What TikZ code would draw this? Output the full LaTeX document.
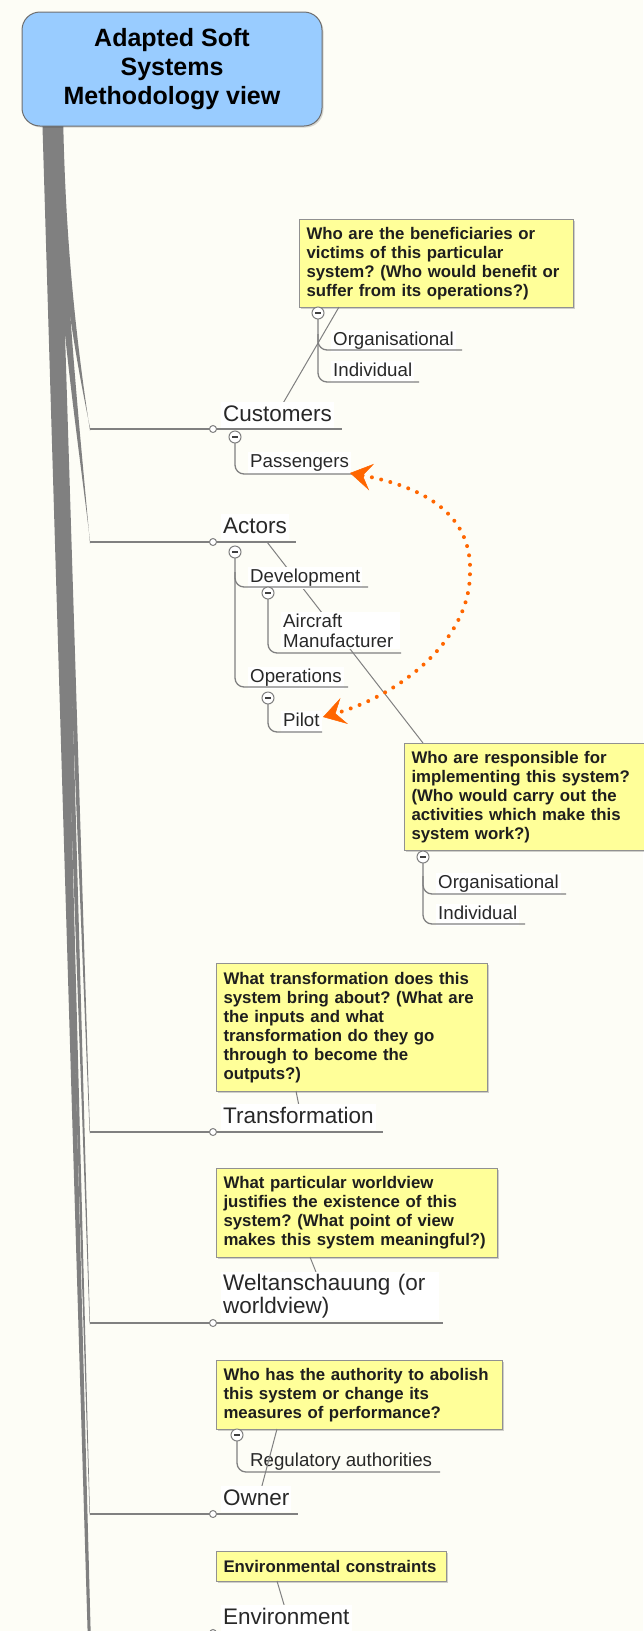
\documentclass[tikz,border=0pt]{standalone}
\usepackage{fontspec}
\setmainfont{Liberation Sans}
\usetikzlibrary{arrows.meta,shadows}
\definecolor{bgc}{RGB}{253,253,246}
\definecolor{trunkc}{RGB}{128,128,128}
\definecolor{linec}{RGB}{128,128,128}
\definecolor{rootc}{RGB}{153,204,255}
\definecolor{rootbd}{RGB}{110,110,110}
\definecolor{notec}{RGB}{255,255,153}
\definecolor{notebd}{RGB}{145,145,145}
\definecolor{notetxt}{RGB}{30,30,30}
\definecolor{txtc}{RGB}{40,40,40}
\definecolor{orangec}{RGB}{255,102,0}
\frenchspacing
\begin{document}
\begin{tikzpicture}[x=1pt,y=-1pt,
  topic/.style={anchor=base west, fill=white, inner xsep=2pt, inner ysep=2pt, text=txtc, font=\fontsize{22.5}{23.5}\selectfont},
  oneline/.style={text height=17pt, text depth=5pt},
  subtopic/.style={anchor=base west, fill=white, inner xsep=2pt, inner ysep=1.5pt, text=txtc, font=\fontsize{18.7}{20}\selectfont},
  subone/.style={text height=14pt, text depth=5pt},
  notebox/.style={draw=notebd, fill=notec, line width=1pt, anchor=north west, align=left, inner xsep=7pt, inner ysep=0pt, text=notetxt, font=\bfseries\fontsize{16.8}{19}\selectfont, drop shadow={shadow xshift=1.5pt, shadow yshift=-1.5pt, fill=black, opacity=0.18}},
  rootbox/.style={draw=rootbd, fill=rootc, line width=1pt, rounded corners=18pt, minimum width=300pt, minimum height=114pt, align=center, text=black, font=\bfseries\fontsize{25}{28.7}\selectfont, drop shadow={shadow xshift=1.5pt, shadow yshift=-1.5pt, fill=black, opacity=0.15}},
  branchline/.style={draw=linec, line width=1.5pt},
  subline/.style={draw=linec, line width=1.3pt, rounded corners=9pt},
  noteline/.style={draw=linec, line width=1pt},
  knob/.style={circle, draw=linec, fill=white, inner sep=0pt, minimum size=7pt, line width=1pt},
  minusknob/.style={circle, draw=linec, fill=white, inner sep=0pt, minimum size=12pt, line width=1pt,
    path picture={\draw[black!75, line width=1.5pt] ([xshift=-3pt]path picture bounding box.center) -- ([xshift=3pt]path picture bounding box.center);}},
  orangedots/.style={draw=orangec, line width=4pt, line cap=round, dash pattern=on 0pt off 9.5pt},
  tipo/.tip={Stealth[length=22pt,width=27pt,inset=9pt,line width=0.5pt]}
]
\useasboundingbox (0,0) rectangle (643,1631);
\fill[bgc] (0,0) rectangle (643,1631);

% ---------- trunk (tapered branches from the root) ----------
\fill[trunkc] (42,110) -- (88,1645) -- (91,1645) -- (50,110) -- cycle;
\fill[trunkc] (44,110) -- (89.5,1512.5) -- (90,1515.5) -- (53,110) -- cycle;
\fill[trunkc] (46,110) -- (89.5,1321.5) -- (90,1324.5) -- (56,110) -- cycle;
\fill[trunkc] (48,110) -- (89.5,1130.5) -- (90,1133.5) -- (58,110) -- cycle;
\fill[trunkc] (51,110) .. controls (55,290) and (73.5,404.6) .. (90,540.5) -- (90,543.5) .. controls (77.5,404.6) and (65,290) .. (61,110) -- cycle;
\fill[trunkc] (54,110) .. controls (55.5,240) and (72.5,343) .. (90,427.5) -- (90,430.5) .. controls (76.5,343) and (65,240) .. (63,110) -- cycle;

% ---------- junction and end coordinates ----------
\coordinate (jCu) at (90,429);   \coordinate (eCu) at (342,429);
\coordinate (jAc) at (90,542);   \coordinate (eAc) at (296,542);
\coordinate (jTr) at (90,1132);  \coordinate (eTr) at (383,1132);
\coordinate (jWe) at (90,1323);  \coordinate (eWe) at (443,1323);
\coordinate (jOw) at (90,1514);  \coordinate (eOw) at (298,1514);
\coordinate (jEn) at (90,1633);  \coordinate (eEn) at (362,1633);

% ---------- callout boxes ----------
\node[notebox, minimum width=274pt, minimum height=88pt, text width=260pt] (n1) at (299,219)
  {Who are the beneficiaries or\\victims of this particular\\system? (Who would benefit or\\suffer from its operations?)};
\node[notebox, minimum width=240pt, minimum height=107pt, text width=226pt] (n2) at (404,743)
  {Who are responsible for\\implementing this system?\\(Who would carry out the\\activities which make this\\system work?)};
\node[notebox, minimum width=271pt, minimum height=128pt, text width=257pt] (n3) at (216,963)
  {What transformation does this\\system bring about? (What are\\the inputs and what\\transformation do they go\\through to become the\\outputs?)};
\node[notebox, minimum width=281pt, minimum height=89pt, text width=267pt] (n4) at (216,1168)
  {What particular worldview\\justifies the existence of this\\system? (What point of view\\makes this system meaningful?)};
\node[notebox, minimum width=286pt, minimum height=69pt, text width=272pt] (n5) at (216,1360)
  {Who has the authority to abolish\\this system or change its\\measures of performance?};
\node[notebox, minimum width=230pt, minimum height=30pt, text width=216pt] (n6) at (216,1551)
  {Environmental constraints};

% ---------- callout connectors ----------
\coordinate (c1a) at (282,405);   \coordinate (c1b) at (339,307);
\coordinate (c2a) at (267,542);   \coordinate (c2b) at (423,743);
\coordinate (c3a) at (299,1106);  \coordinate (c3b) at (296,1091);
\coordinate (c4a) at (316,1272);  \coordinate (c4b) at (310,1257);
\coordinate (c6a) at (285,1608);  \coordinate (c6b) at (277,1581);
\draw[noteline] (c1a) -- (c1b);
\draw[noteline] (c2a) -- (c2b);
\draw[noteline] (c3a) -- (c3b);
\draw[noteline] (c4a) -- (c4b);
\draw[noteline] (c6a) -- (c6b);

% ---------- horizontal branch lines + underlines ----------
\draw[branchline] (jCu) -- (eCu);
\draw[branchline] (jAc) -- (eAc);
\draw[branchline] (jTr) -- (eTr);
\draw[branchline] (jWe) -- (eWe);
\draw[branchline] (jOw) -- (eOw);
\draw[branchline] (jEn) -- (eEn);

% ---------- sub-topic text ----------
\node[subtopic, subone] (Pa) at (248,467) {Passengers};
\node[subtopic, subone] (De) at (248,582) {Development};
\node[subtopic, text width=115pt, align=left] (AM) at (281,627) {Aircraft\\Manufacturer};
\node[subtopic, subone] (Op) at (248,682) {Operations};
\node[subtopic, subone] (Pi) at (281,726) {Pilot};
\node[subtopic, subone] (Or1) at (331,345) {Organisational};
\node[subtopic, subone] (In1) at (331,376) {Individual};
\node[subtopic, subone] (Or2) at (436,888) {Organisational};
\node[subtopic, subone] (In2) at (436,919) {Individual};
\node[subtopic, subone, fill=none] (Re) at (248,1466) {Regulatory authorities};

% owner callout connector (runs over the sub-topic text)
\coordinate (c5a) at (259,1497);  \coordinate (c5b) at (277,1429);
\draw[noteline] (c5a) -- (c5b);

% ---------- main topic text ----------
\node[topic, oneline] (Cu) at (221,421) {Customers};
\node[topic, oneline] (Ac) at (221,533) {Actors};
\node[topic, oneline] (Tr) at (221,1123) {Transformation};
\node[topic, text width=214pt, align=left] (We) at (221,1290) {Weltanschauung (or\\worldview)};
\node[topic, oneline] (Ow) at (221,1505) {Owner};
\node[topic, oneline] (En) at (221,1624) {Environment};

% ---------- sub-topic tree lines ----------
\coordinate (ePa) at (352,474);
\coordinate (eDe) at (368,587);  \coordinate (bDe) at (235,572);
\coordinate (eAM) at (401,653);
\coordinate (eOp) at (348,687);
\coordinate (ePi) at (322,732);
\coordinate (eOr1) at (462,350); \coordinate (bOr1) at (318,334);
\coordinate (eIn1) at (419,382);
\coordinate (eOr2) at (566,894); \coordinate (bOr2) at (423,876);
\coordinate (eIn2) at (525,924);
\coordinate (eRe) at (440,1472);

\draw[subline] (235,443) |- (ePa);
\draw[subline] (235,558) |- (eOp);
\draw[subline] (bDe) |- (eDe);
\draw[subline] (268,599) |- (eAM);
\draw[subline] (268,704) |- (ePi);
\draw[subline] (318,319) |- (eIn1);
\draw[subline] (bOr1) |- (eOr1);
\draw[subline] (423,863) |- (eIn2);
\draw[subline] (bOr2) |- (eOr2);
\draw[subline] (237,1441) |- (eRe);

\node[minusknob] (mCu) at (235,437) {};
\node[minusknob] (mAc) at (235,552) {};
\node[minusknob] (mDe) at (268,593) {};
\node[minusknob] (mOp) at (268,698) {};
\node[minusknob] (mN1) at (318,313) {};
\node[minusknob] (mN2) at (423,857) {};
\node[minusknob] (mN5) at (237,1435) {};

% ---------- topic knobs ----------
\node[knob] (kCu) at (213,429) {};
\node[knob] (kAc) at (213,542) {};
\node[knob] (kTr) at (213,1132) {};
\node[knob] (kWe) at (213,1323) {};
\node[knob] (kOw) at (213,1514) {};
\node[knob] (kEn) at (213,1633) {};

% ---------- orange dotted relationship ----------
\coordinate (aPa) at (350,473);
\coordinate (aMid) at (470,573);
\coordinate (aPi) at (323,717);
\draw[orangedots, tipo-tipo] (aPa) .. controls (440,490) and (472,525) .. (aMid)
   .. controls (470,640) and (400,695) .. (aPi);

% ---------- root ----------
\node[rootbox] (root) at (172,69) {Adapted Soft\\Systems\\Methodology view};
\end{tikzpicture}
\end{document}
